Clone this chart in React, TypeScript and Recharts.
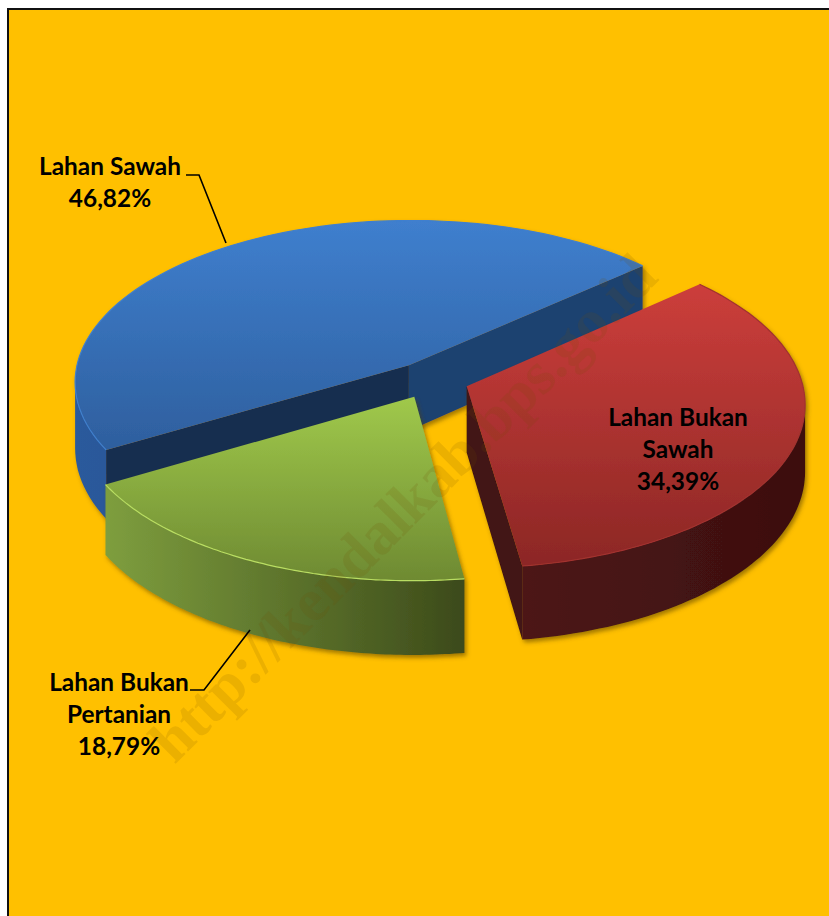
import { PieChart, Pie } from 'recharts';

const categories = ['Lahan Sawah', 'Lahan Bukan Sawah', 'Lahan Bukan Pertanian'];
const shares = [46.82, 34.39, 18.79];
const labelRows = [['Lahan Sawah'], ['Lahan Bukan', 'Sawah'], ['Lahan Bukan', 'Pertanian']];

const pieData = categories.map((name, i) => ({ name, value: shares[i] }));

// Styles per slice
const topColors = [['#3f7fce', '#2e5f9e'], ['#cc3e3b', '#8c2725'], ['#a0c94b', '#6e8a32']];
const rimColors = [['#2a5a9c', '#1f4474'], ['#4d1616', '#3c0f0f'], ['#7e9e3e', '#3c4a1a']];
const startCutColors = ['#172f50', '#3f1111', '#3c4a1a'];
const endCutColors = ['#1f4270', '#431212', '#3c4a1a'];
const edgeColors = ['#3f7fce', '#a23230', '#b9de63'];

// Label placement per slice
const labelX = [110, 678, 119];
const labelY = [175, 426, 691];
const leaderLines = ['186,175 199,175 226,243', '', '190,690 204,690 250,630'];

const SQUASH = 0.484;
const PERSPECTIVE = 0.1;
const THICKNESS = 66;
const EXPLODE = 0.113;

const rad = (deg: number) => (deg * Math.PI) / 180;

const Slice3D = (props: any) => {
  const { cx, cy, outerRadius, startAngle, endAngle, index = 0 } = props;
  const i = pieData.findIndex((d) => d.name === props.name);
  const k = i >= 0 ? i : index;
  const mid = rad((startAngle + endAngle) / 2);
  const offU = EXPLODE * Math.cos(mid);
  const offV = EXPLODE * Math.sin(mid);

  const project = (u: number, v: number, z = 0): [number, number] => {
    const w = 1 + PERSPECTIVE * (v + offV);
    return [
      cx + (outerRadius * (u + offU)) / w,
      cy - (outerRadius * SQUASH * (v + offV)) / w + (z * THICKNESS) / w,
    ];
  };

  const steps = 90;
  const arcAngles = Array.from({ length: steps + 1 }, (_, s) =>
    rad(startAngle + ((endAngle - startAngle) * s) / steps),
  );
  const rimTop = arcAngles.map((a) => project(Math.cos(a), Math.sin(a)));
  const rimBottom = arcAngles.map((a) => project(Math.cos(a), Math.sin(a), 1));
  const apexTop = project(0, 0);
  const apexBottom = project(0, 0, 1);
  const inner = rimTop[Math.floor(steps / 2)];

  // A wall shows when the top face lies above its upper edge on screen
  const wallShows = (a: number[], b: number[], interior: number[]) => {
    const dx = b[0] - a[0];
    const dy = b[1] - a[1];
    const sideDown = dx;
    const sideIn = dx * (interior[1] - a[1]) - dy * (interior[0] - a[0]);
    return sideDown * sideIn < 0;
  };

  const toPath = (pts: number[][]) =>
    pts.map((p, n) => `${n ? 'L' : 'M'}${p[0].toFixed(1)} ${p[1].toFixed(1)}`).join(' ');

  const rimVisible: number[] = [];
  for (let s = 0; s < steps; s++) {
    if (wallShows(rimTop[s], rimTop[s + 1], apexTop)) rimVisible.push(s);
  }
  let rimPath = '';
  if (rimVisible.length) {
    const first = rimVisible[0];
    const last = rimVisible[rimVisible.length - 1] + 1;
    const upper = rimTop.slice(first, last + 1);
    const lower = rimBottom.slice(first, last + 1).reverse();
    rimPath = `${toPath([...upper, ...lower])} Z`;
  }

  const startWall = wallShows(apexTop, rimTop[0], inner);
  const endWall = wallShows(apexTop, rimTop[steps], inner);
  const rimXs = rimTop.map((p) => p[0]);

  return (
    <g filter="url(#pieShadow)">
      <defs>
        <filter id="pieShadow" x="-10%" y="-10%" width="120%" height="120%">
          <feDropShadow dx="2" dy="3" stdDeviation="2" floodColor="#5a4000" floodOpacity="0.55" />
        </filter>
        <linearGradient id={`top${k}`} x1="0" y1="0" x2="0" y2="1">
          <stop offset="0%" stopColor={topColors[k][0]} />
          <stop offset="100%" stopColor={topColors[k][1]} />
        </linearGradient>
        <linearGradient
          id={`rim${k}`}
          gradientUnits="userSpaceOnUse"
          x1={Math.min(...rimXs)}
          y1="0"
          x2={Math.max(...rimXs)}
          y2="0"
        >
          <stop offset="0%" stopColor={rimColors[k][0]} />
          <stop offset="100%" stopColor={rimColors[k][1]} />
        </linearGradient>
      </defs>
      {startWall && (
        <path
          d={`${toPath([apexTop, rimTop[0], rimBottom[0], apexBottom])} Z`}
          fill={startCutColors[k]}
        />
      )}
      {endWall && (
        <path
          d={`${toPath([apexTop, rimTop[steps], rimBottom[steps], apexBottom])} Z`}
          fill={endCutColors[k]}
        />
      )}
      {rimPath && <path d={rimPath} fill={`url(#rim${k})`} />}
      <path d={`${toPath([apexTop, ...rimTop])} Z`} fill={`url(#top${k})`} />
      <path d={toPath(rimTop)} fill="none" stroke={edgeColors[k]} strokeWidth={1.2} />
    </g>
  );
};

const renderLabel = (props: any) => {
  const k = pieData.findIndex((d) => d.name === props.name);
  const rows = [...labelRows[k], `${shares[k].toFixed(2).replace('.', ',')}%`];
  return (
    <g key={props.name}>
      {leaderLines[k] && (
        <polyline points={leaderLines[k]} fill="none" stroke="#000" strokeWidth={1.6} />
      )}
      <text
        x={labelX[k]}
        y={labelY[k]}
        textAnchor="middle"
        fontFamily="Lato, 'Open Sans', sans-serif"
        fontWeight={700}
        fontSize={24.4}
        fill="#000"
      >
        {rows.map((row, n) => (
          <tspan key={row} x={labelX[k]} dy={n ? 32 : 0}>
            {row}
          </tspan>
        ))}
      </text>
    </g>
  );
};

export default function App() {
  return (
    <div style={{ position: 'absolute', left: 0, top: 0, width: 829, height: 916, overflow: 'hidden', background: '#fff' }}>
      <div
        style={{
          position: 'absolute',
          left: 7,
          top: 8,
          width: 822,
          height: 908,
          boxSizing: 'border-box',
          background: '#ffc000',
          borderLeft: '2px solid #111',
          borderTop: '2px solid #111',
        }}
      />
      <div style={{ position: 'absolute', left: 0, top: 0 }}>
        <PieChart width={829} height={916} margin={{ top: 0, right: 0, bottom: 0, left: 0 }}>
          <Pie
            data={pieData}
            dataKey="value"
            nameKey="name"
            cx={431}
            cy={380}
            outerRadius={335}
            startAngle={210.3}
            endAngle={-149.7}
            shape={Slice3D}
            label={renderLabel}
            labelLine={false}
            isAnimationActive={false}
          />
        </PieChart>
      </div>
      <div
        style={{
          position: 'absolute',
          left: 160,
          top: 720,
          transformOrigin: '0 50%',
          transform: 'rotate(-45deg)',
          whiteSpace: 'nowrap',
          fontFamily: "'Liberation Serif', serif",
          fontWeight: 700,
          fontSize: 61,
          lineHeight: '61px',
          color: 'rgba(110,80,0,0.14)',
        }}
      >
        http://kendalkab.bps.go.id
      </div>
    </div>
  );
}
